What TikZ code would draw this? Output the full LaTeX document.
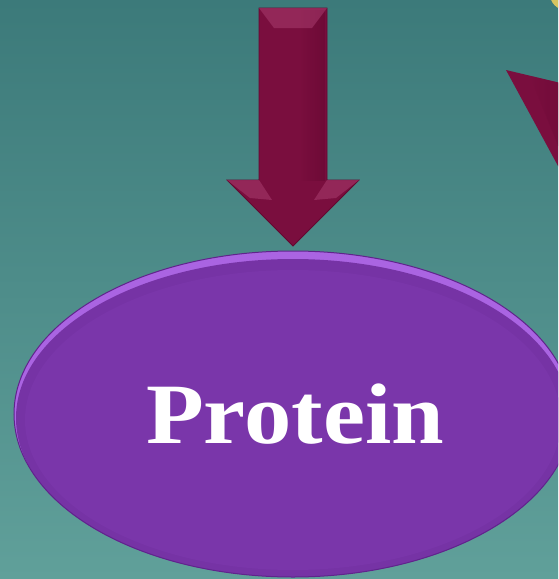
\documentclass[tikz,border=0pt]{standalone}
\usepackage{fontspec}
\newfontfamily\labelfont{Liberation Serif}
\usetikzlibrary{shapes.geometric}
\definecolor{bgtop}{RGB}{60,122,122}
\definecolor{bgbot}{RGB}{96,160,154}
\definecolor{arrowmain}{RGB}{122,14,62}
\definecolor{arrowdark}{RGB}{98,8,48}
\definecolor{arrowlight}{RGB}{168,60,110}
\definecolor{ovalfill}{RGB}{122,54,170}
\definecolor{ovalrim}{RGB}{170,100,226}
\definecolor{ovaldark}{RGB}{96,36,140}
\definecolor{sunyellow}{RGB}{214,196,96}
\tikzset{
  bigarrow/.style={fill=arrowmain, draw=arrowdark, line width=0.8pt},
  facet/.style={fill=arrowlight, opacity=0.55},
  oval/.style={ellipse, minimum width=558pt, minimum height=326pt, inner sep=0pt,
    draw=ovaldark, line width=1pt},
  label/.style={text=white, font=\labelfont\fontsize{86}{90}\selectfont\bfseries}
}
\begin{document}
\begin{tikzpicture}[x=1pt,y=-1pt]
\useasboundingbox (0,0) rectangle (558,579);
\begin{scope}
\clip (0,0) rectangle (558,579);
% background
\shade[top color=bgtop, bottom color=bgbot] (0,0) rectangle (558,579);
% yellow corner bit
\fill[sunyellow] (566,-6) circle (16pt);
% partial diagonal arrow at right
\fill[arrowmain] (506,70) -- (590,90) -- (590,225) -- cycle;
\shade[left color=arrowmain, right color=arrowdark, opacity=0.6] (530,76) -- (590,90) -- (590,225) -- cycle;
% main down arrow
\draw[bigarrow] (259,8) -- (327,8) -- (327,180) -- (359,180) -- (293,246) -- (227,180) -- (259,180) -- cycle;
\shade[left color=arrowmain, right color=arrowdark, opacity=0.5] (300,10) rectangle (325,180);
\fill[facet] (259,8) -- (327,8) -- (312,28) -- (274,28) -- cycle;
\fill[facet] (227,180) -- (259,180) -- (272,200) -- (250,198) -- cycle;
\fill[facet] (359,180) -- (327,180) -- (314,200) -- (336,198) -- cycle;
\coordinate (tip) at (293,246);
% oval with bevel
\fill[ovalrim] (293,414) ellipse[x radius=279pt, y radius=163pt];
\fill[ovalfill!85!ovaldark] (293,418) ellipse[x radius=277pt, y radius=159pt];
\fill[ovalfill] (293,420) ellipse[x radius=268pt, y radius=150pt];
\node[oval] (protein) at (293,414) {};
\node[label] (txt) at (295,414) {\scalebox{1.1}[1]{Protein}};
\end{scope}
\end{tikzpicture}
\end{document}
